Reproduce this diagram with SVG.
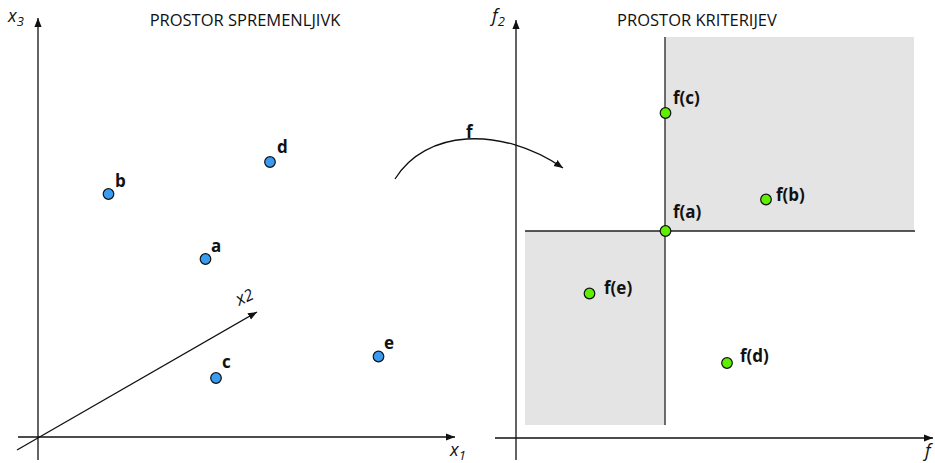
<svg xmlns="http://www.w3.org/2000/svg" width="935" height="463" viewBox="0 0 935 463">
<style>
.t{font-family:"Open Sans","Noto Sans",sans-serif;font-size:16.5px;fill:#111}
.lb{font-family:"Open Sans","Noto Sans",sans-serif;font-size:17px;font-weight:bold;fill:#111}
.ax{font-family:"Open Sans","Noto Sans",sans-serif;font-size:18px;font-style:italic;fill:#111}
.sub{font-size:13px}
.axis{stroke:#111;stroke-width:1.3;fill:none}
.edge{stroke:#222;stroke-width:1.3;fill:none}
.bp{fill:#3a9cf0;stroke:#111;stroke-width:1.2}
.gp{fill:#5ef000;stroke:#111;stroke-width:1.2}
.reg{fill:#e4e4e4}
</style>
<defs>
<marker id="ah" viewBox="0 0 10 10" refX="10" refY="5" markerWidth="9" markerHeight="9" markerUnits="userSpaceOnUse" orient="auto">
<path d="M0,1 L10,5 L0,9 Z" fill="#111"/>
</marker>
</defs>
<g id="left-panel">
<text class="t" x="245" y="26" text-anchor="middle">PROSTOR SPREMENLJIVK</text>
<line class="axis" x1="38" y1="460" x2="38" y2="18" marker-end="url(#ah)"/>
<line class="axis" x1="18" y1="437" x2="455" y2="437" marker-end="url(#ah)"/>
<line class="axis" x1="17" y1="450" x2="257" y2="312" marker-end="url(#ah)"/>
<text class="ax" x="8" y="22">x<tspan class="sub" dy="4">3</tspan></text>
<text class="ax" x="450" y="456">x<tspan class="sub" dy="4">1</tspan></text>
<text class="ax" transform="translate(239,306) rotate(-25)">x<tspan class="sub" style="font-size:16px">2</tspan></text>
</g>
<g id="node-a"><circle class="bp" cx="205.5" cy="259" r="5.3"/><text class="lb" x="211" y="252">a</text></g>
<g id="node-b"><circle class="bp" cx="108.5" cy="194" r="5.3"/><text class="lb" x="115" y="187">b</text></g>
<g id="node-c"><circle class="bp" cx="216" cy="378" r="5.3"/><text class="lb" x="222" y="368">c</text></g>
<g id="node-d"><circle class="bp" cx="270" cy="162" r="5.3"/><text class="lb" x="277" y="153">d</text></g>
<g id="node-e"><circle class="bp" cx="378.5" cy="356.5" r="5.3"/><text class="lb" x="384" y="349">e</text></g>
<g id="right-panel">
<text class="t" x="697" y="26" text-anchor="middle">PROSTOR KRITERIJEV</text>
<rect class="reg" x="665" y="37" width="249" height="194"/>
<rect class="reg" x="525" y="231" width="140" height="194"/>
<line class="edge" x1="665" y1="37" x2="665" y2="425"/>
<line class="edge" x1="525" y1="231" x2="915" y2="231"/>
<line class="axis" x1="516" y1="460" x2="516" y2="20" marker-end="url(#ah)"/>
<line class="axis" x1="495" y1="438" x2="933" y2="438" marker-end="url(#ah)"/>
<text class="ax" x="492" y="22">f<tspan class="sub" dy="4">2</tspan></text>
<text class="ax" x="925" y="457">f</text>
</g>
<g id="connectors">
<path class="axis" d="M395,179 C425,130 500,125 563,168" marker-end="url(#ah)"/>
<text class="lb" x="466" y="138">f</text>
</g>
<g id="node-fa"><circle class="gp" cx="665.5" cy="231" r="5.3"/><text class="lb" x="673" y="218">f(a)</text></g>
<g id="node-fb"><circle class="gp" cx="766" cy="199.5" r="5.3"/><text class="lb" x="776" y="201">f(b)</text></g>
<g id="node-fc"><circle class="gp" cx="665.5" cy="113" r="5.3"/><text class="lb" x="673" y="104">f(c)</text></g>
<g id="node-fd"><circle class="gp" cx="727" cy="363" r="5.3"/><text class="lb" x="740" y="362">f(d)</text></g>
<g id="node-fe"><circle class="gp" cx="589.5" cy="293.5" r="5.3"/><text class="lb" x="604" y="294">f(e)</text></g>
</svg>
